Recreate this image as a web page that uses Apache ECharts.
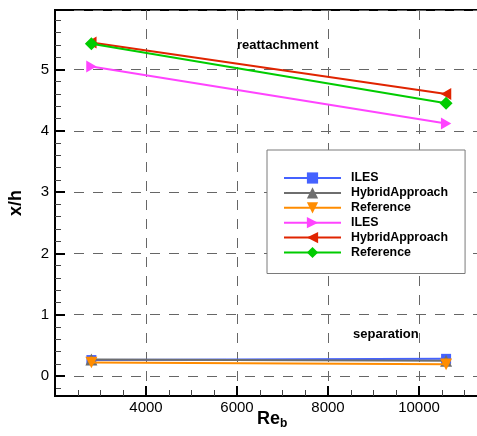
<!DOCTYPE html>
<html><head><meta charset="utf-8">
<script src="https://cdn.jsdelivr.net/npm/echarts@6/dist/echarts.min.js"></script>
<style>html,body{margin:0;padding:0;background:#fff}#c{width:477px;height:436px}</style>
</head><body><div id="c"></div>
<script>
// ---- data ----
const reynolds = [2800, 10595];
const sepILES = [0.26, 0.28];
const sepHybrid = [0.27, 0.25];
const sepReference = [0.22, 0.19];
const reatILES = [5.05, 4.12];
const reatHybrid = [5.44, 4.60];
const reatReference = [5.42, 4.45];
const seriesNames = ['ILES', 'HybridApproach', 'Reference', 'ILES#2', 'HybridApproach#2', 'Reference#2'];
const annotations = ['reattachment', 'separation'];
const axisTitles = ['Re', 'b', 'x/h'];

const FONT = '"Liberation Sans", Arial, sans-serif';
const colors = ['#4562ff', '#6e6e6e', '#ff8c00', '#ff44ff', '#e02400', '#00cc00'];
const symbols = [
  'rect',
  'triangle',
  'path://M0,0L10.4,0L5.2,10Z',
  'path://M0,0L10,5.8L0,11.6Z',
  'path://M10,0L0,5.8L10,11.6Z',
  'diamond'
];
const sizes = [10, 12, 12, 12, 12, 13];
const values = [sepILES, sepHybrid, sepReference, reatILES, reatHybrid, reatReference];

const series = values.map((arr, i) => ({
  name: seriesNames[i],
  type: 'line',
  data: reynolds.map((x, j) => [x, arr[j]]),
  symbol: symbols[i],
  symbolSize: sizes[i],
  symbolKeepAspect: true,
  showAllSymbol: true,
  color: colors[i],
  itemStyle: { color: colors[i] },
  lineStyle: { color: colors[i], width: 2 },
  z: 3 + i,
  animation: false
}));

const chart = echarts.init(document.getElementById('c'), null, { renderer: 'canvas' });
chart.setOption({
  backgroundColor: '#fff',
  animation: false,
  grid: { left: 55, top: 10, width: 442, height: 386, outerBoundsMode: 'none', containLabel: false,
    show: true, borderColor: '#000', borderWidth: 2, backgroundColor: 'transparent' },
  xAxis: {
    type: 'value', min: 2000, max: 11714, interval: 2000,
    axisLine: { show: true, onZero: false, lineStyle: { color: '#000', width: 2 } },
    axisTick: { show: true, inside: true, length: 10, lineStyle: { color: '#000', width: 2 } },
    minorTick: { show: true, splitNumber: 4, length: 6, lineStyle: { color: '#444', width: 1 } },
    axisLabel: { show: true, showMinLabel: false, showMaxLabel: false, margin: 4, color: '#000', fontFamily: FONT, fontSize: 15,
      formatter: v => String(v) },
    splitLine: { show: true, lineStyle: { color: '#666', width: 1, type: [10, 9] } },
    minorSplitLine: { show: false }
  },
  yAxis: {
    type: 'value', min: -0.326, max: 5.97,
    axisLine: { show: true, onZero: false, lineStyle: { color: '#000', width: 2 } },
    axisTick: { show: true, inside: true, length: 10, lineStyle: { color: '#000', width: 2 } },
    minorTick: { show: true, splitNumber: 5, length: 6, lineStyle: { color: '#444', width: 1 } },
    axisLabel: { show: true, showMinLabel: false, showMaxLabel: false, margin: 6, color: '#000', fontFamily: FONT, fontSize: 15,
      formatter: v => String(v) },
    splitLine: { show: true, lineStyle: { color: '#666', width: 1, type: [10, 9] } },
    minorSplitLine: { show: false }
  },
  legend: {
    orient: 'vertical', left: 267, top: 150,
    data: seriesNames,
    formatter: n => n.replace(/#\d$/, ''),
    itemWidth: 57, itemHeight: 14, itemGap: 2.9,
    padding: [22, 17, 15, 16],
    backgroundColor: '#fff', borderColor: '#7a7a7a', borderWidth: 1,
    textStyle: { fontFamily: FONT, fontWeight: 'bold', fontSize: 12.4, color: '#000', lineHeight: 12, padding: [0, 0, 0, 5] },
    selectedMode: false
  },
  graphic: [
    { type: 'text', left: 237, top: 39, z: 100,
      style: { text: annotations[0], font: 'bold 13px ' + FONT, fill: '#000' } },
    { type: 'text', left: 353, top: 328, z: 100,
      style: { text: annotations[1], font: 'bold 13px ' + FONT, fill: '#000' } },
    { type: 'text', left: 257, top: 410, z: 100,
      style: {
        text: '{a|' + axisTitles[0] + '}{b|' + axisTitles[1] + '}',
        rich: {
          a: { fontFamily: FONT, fontWeight: 'bold', fontSize: 18, fill: '#000', color: '#000' },
          b: { fontFamily: FONT, fontWeight: 'bold', fontSize: 12, fill: '#000', color: '#000', padding: [10, 0, 0, 0] }
        }
      } },
    { type: 'text', x: 16, y: 203, rotation: Math.PI / 2, z: 100,
      style: { text: axisTitles[2], font: 'bold 18px ' + FONT, fill: '#000', align: 'center', verticalAlign: 'middle' } }
  ],
  series: series
});
</script>
</body></html>
